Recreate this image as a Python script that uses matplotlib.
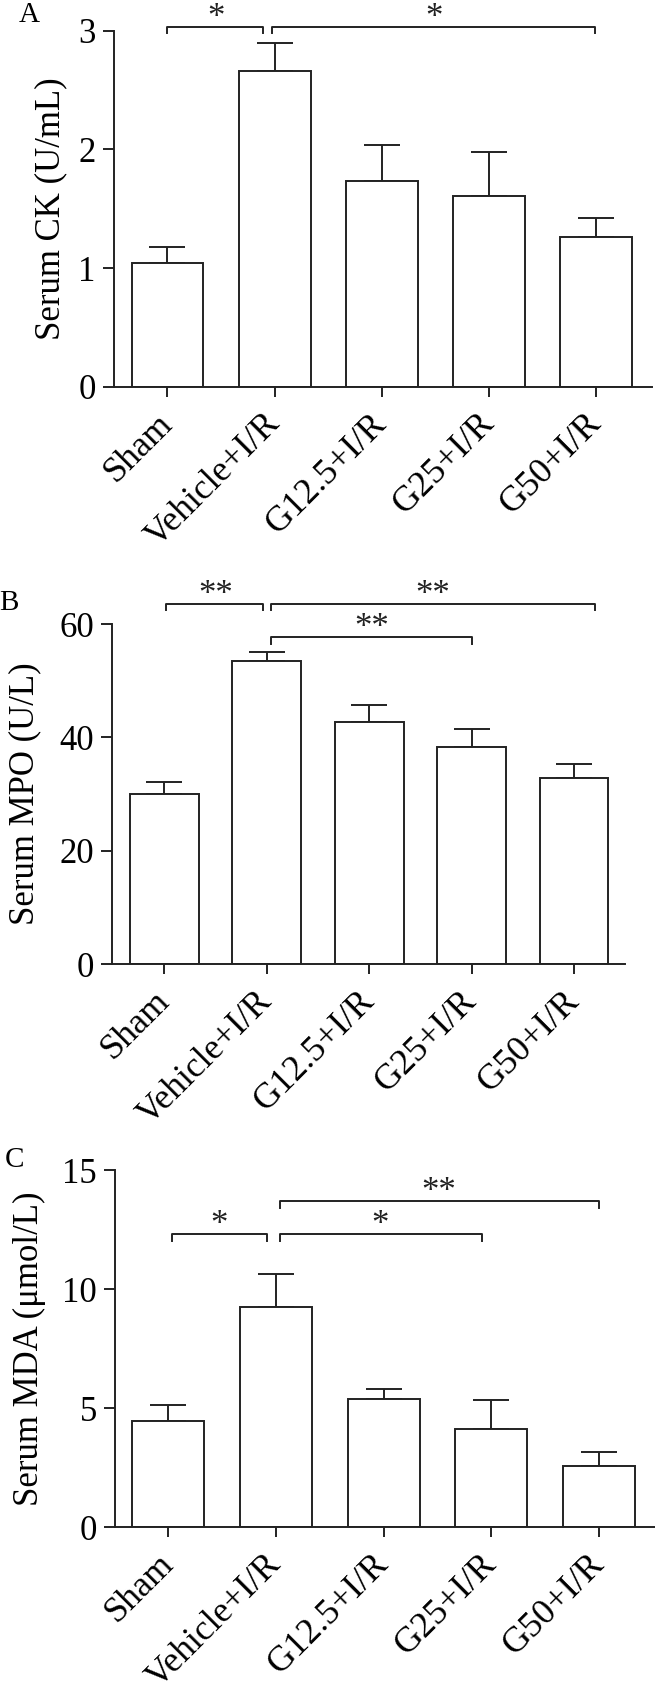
import matplotlib
matplotlib.use("Agg")
import matplotlib.pyplot as plt
from matplotlib.transforms import ScaledTranslation

plt.rcParams['font.family'] = ['Liberation Serif', 'DejaVu Serif']

groups = ['Sham', 'Vehicle+I/R', 'G12.5+I/R', 'G25+I/R', 'G50+I/R']

# panel A - serum CK
ck_mean = [1.045, 2.66, 1.735, 1.61, 1.26]
ck_err = [0.13, 0.24, 0.30, 0.37, 0.16]
ck_ticks = [0, 1, 2, 3]

# panel B - serum MPO
mpo_mean = [30.0, 53.4, 42.7, 38.3, 32.8]
mpo_err = [2.1, 1.7, 3.0, 3.2, 2.6]
mpo_ticks = [0, 20, 40, 60]

# panel C - serum MDA
mda_mean = [4.46, 9.25, 5.40, 4.14, 2.57]
mda_err = [0.66, 1.37, 0.42, 1.19, 0.59]
mda_ticks = [0, 5, 10, 15]

# significance brackets: (x start, x end, y, star x, label)
ck_sig = [(0.0, 0.895, 3.028, 0.45, '*'), (0.973, 3.99, 3.028, 2.49, '*')]
mpo_sig = [(0.02, 0.965, 63.6, 0.50, '**'), (1.04, 4.2, 63.6, 2.62, '**'),
           (1.04, 3.0, 57.65, 2.02, '**')]
mda_sig = [(0.03, 0.92, 12.31, 0.47, '*'), (1.04, 2.91, 12.31, 1.97, '*'),
           (1.04, 4.0, 13.70, 2.51, '**')]

fig = plt.figure(figsize=(6.55, 16.93), dpi=100)


def panel(rect, xlim, mean, err, ticks, ylabel, letter, letter_xy, sig, leg,
          label_x):
    ax = fig.add_axes(rect)
    x = range(len(groups))
    ax.bar(x, mean, width=0.67, color='white', edgecolor='#222222',
           linewidth=1.4, zorder=2)
    ax.errorbar(x, mean, yerr=[[0] * len(err), err], fmt='none',
                ecolor='#222222', elinewidth=1.4, capsize=13, capthick=1.4,
                zorder=1)
    ax.set_xlim(*xlim)
    ax.set_ylim(ticks[0], ticks[-1])
    ax.set_yticks(ticks)
    ax.set_xticks(list(x))
    ax.set_xticklabels(groups, rotation=45, ha='right', va='center',
                       rotation_mode='anchor')
    shift = ScaledTranslation(5 / 100, 0, fig.dpi_scale_trans)
    for t in ax.get_xticklabels():
        t.set_transform(t.get_transform() + shift)
    for s in ['top', 'right']:
        ax.spines[s].set_visible(False)
    for s in ['left', 'bottom']:
        ax.spines[s].set_linewidth(1.4)
        ax.spines[s].set_color('#222222')
    ax.tick_params(axis='y', length=8, width=1.4, pad=5, labelsize=25,
                   color='#222222')
    ax.tick_params(axis='x', length=7, width=1.4, pad=16, labelsize=26,
                   color='#222222')
    ax.set_ylabel(ylabel, fontsize=25)
    ax.yaxis.label.set_va('center')
    ax.yaxis.set_label_coords(label_x, 0.5)

    for x0, x1, y, sx, lab in sig:
        ax.plot([x0, x0, x1, x1], [y - leg, y, y, y - leg], color='#222222',
                lw=1.4, clip_on=False)
        ax.text(sx, y, lab, ha='center', va='baseline', fontsize=25,
                color='#222222')

    fig.text(letter_xy[0] / 655, 1 - letter_xy[1] / 1693, letter,
             fontsize=21, ha='center', va='center')
    return ax


panel([0.1734, 0.7716, 0.8214, 0.2103], (-0.503, 4.516), ck_mean, ck_err,
      ck_ticks, 'Serum CK (U/mL)', 'A', (29, 15), ck_sig, 0.05, -0.116)
panel([0.171, 0.4304, 0.7837, 0.2010], (-0.51, 4.50), mpo_mean, mpo_err,
      mpo_ticks, 'Serum MPO (U/L)', 'B', (9, 603), mpo_sig, 1.18, -0.17)
panel([0.1754, 0.0979, 0.8246, 0.2110], (-0.496, 4.52), mda_mean, mda_err,
      mda_ticks, 'Serum MDA (\u03bcmol/L)', 'C', (15, 1160), mda_sig, 0.28,
      -0.159)

fig.savefig('out.png', dpi=100)
